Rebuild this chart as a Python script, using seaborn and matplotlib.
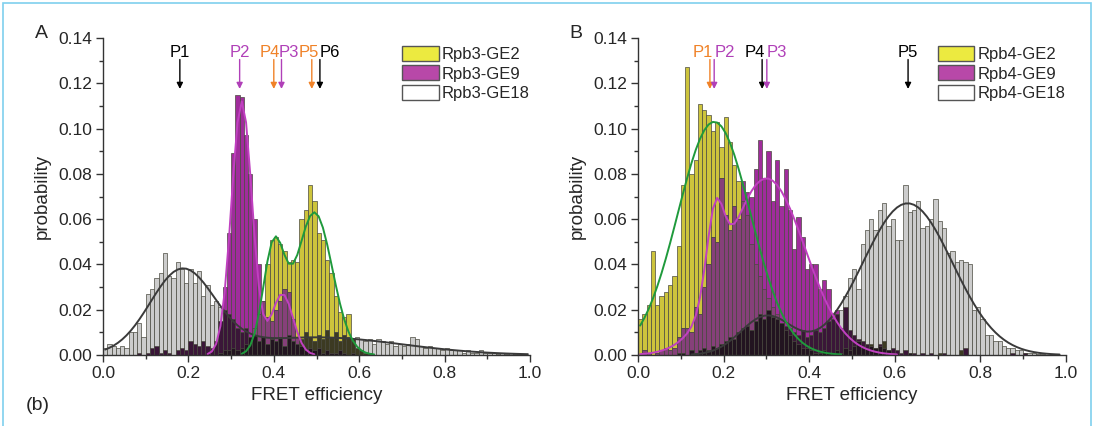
import numpy as np
import pandas as pd
import matplotlib
matplotlib.use("Agg")
import matplotlib.pyplot as plt
import seaborn as sns
from matplotlib.patches import Patch, Rectangle
from matplotlib.ticker import MultipleLocator, FormatStrFormatter

sns.set_theme(style="ticks")
plt.rcParams["font.family"] = ["Liberation Sans", "DejaVu Sans"]

# FRET histograms, 100 bins of width 0.01
a_ge2 = [
    0, 0, 0, 0, 0, 0, 0, 0, 0, 0,
    0, 0, 0, 0, 0, 0, 0, 0, 0, 0,
    0, 0, 0, 0, 0, 0, 0, 0.001, 0.002, 0.002,
    0.003, 0.002, 0.003, 0.005, 0.008, 0.012, 0.018, 0.024, 0.040, 0.051,
    0.052, 0.049, 0.046, 0.041, 0.042, 0.041, 0.060, 0.064, 0.075, 0.068,
    0.054, 0.051, 0.042, 0.036, 0.026, 0.019, 0.017, 0.018, 0.007, 0.003,
    0.002, 0.001, 0.001, 0, 0, 0, 0, 0, 0, 0,
    0, 0, 0, 0, 0, 0, 0, 0, 0, 0,
    0, 0, 0, 0, 0, 0, 0, 0, 0, 0,
    0, 0, 0, 0, 0, 0, 0, 0, 0, 0,
]
a_ge9 = [
    0, 0, 0, 0, 0, 0, 0, 0, 0.001, 0,
    0.001, 0.003, 0.004, 0.001, 0.002, 0.001, 0, 0.002, 0.003, 0.002,
    0.006, 0.005, 0.004, 0.006, 0.004, 0.003, 0.006, 0.015, 0.030, 0.054,
    0.089, 0.115, 0.114, 0.097, 0.080, 0.060, 0.040, 0.024, 0.017, 0.015,
    0.020, 0.024, 0.029, 0.028, 0.016, 0.008, 0.004, 0.002, 0.003, 0.002,
    0.003, 0.001, 0.002, 0.001, 0.001, 0.002, 0.001, 0, 0.001, 0,
    0, 0, 0, 0, 0, 0, 0, 0, 0, 0,
    0, 0, 0, 0, 0, 0, 0, 0, 0, 0,
    0, 0, 0, 0, 0, 0, 0, 0, 0, 0,
    0, 0, 0, 0, 0, 0, 0, 0, 0, 0,
]
a_ge18 = [
    0.003, 0.005, 0.004, 0.003, 0.004, 0.003, 0.010, 0.010, 0.014, 0.008,
    0.027, 0.029, 0.034, 0.036, 0.045, 0.035, 0.034, 0.041, 0.038, 0.032,
    0.038, 0.032, 0.037, 0.026, 0.031, 0.022, 0.024, 0.021, 0.020, 0.018,
    0.016, 0.012, 0.010, 0.012, 0.008, 0.009, 0.006, 0.008, 0.005, 0.007,
    0.006, 0.008, 0.004, 0.009, 0.006, 0.005, 0.007, 0.010, 0.008, 0.006,
    0.009, 0.007, 0.011, 0.008, 0.010, 0.006, 0.009, 0.008, 0.007, 0.008,
    0.007, 0.006, 0.007, 0.005, 0.007, 0.006, 0.005, 0.006, 0.004, 0.005,
    0.004, 0.005, 0.008, 0.007, 0.004, 0.003, 0.004, 0.003, 0.003, 0.002,
    0.003, 0.002, 0.002, 0.002, 0.001, 0.002, 0.001, 0.001, 0.002, 0.001,
    0.001, 0.001, 0.0005, 0.001, 0.0005, 0.001, 0.0005, 0.0003, 0.0003, 0.0002,
]
b_ge2 = [
    0.016, 0.018, 0.022, 0.046, 0.022, 0.026, 0.028, 0.031, 0.035, 0.048,
    0.075, 0.127, 0.080, 0.086, 0.111, 0.108, 0.106, 0.099, 0.103, 0.092,
    0.105, 0.094, 0.084, 0.077, 0.068, 0.062, 0.049, 0.040, 0.035, 0.029,
    0.025, 0.021, 0.018, 0.014, 0.011, 0.009, 0.006, 0.005, 0.003, 0.003,
    0.002, 0.001, 0.001, 0.002, 0.001, 0.001, 0.002, 0.001, 0.003, 0.002,
    0.004, 0.006, 0.004, 0.003, 0.005, 0.003, 0.004, 0.006, 0.002, 0.001,
    0, 0, 0, 0.001, 0, 0, 0, 0, 0, 0,
    0.001, 0, 0, 0, 0, 0.002, 0, 0, 0, 0,
    0, 0, 0, 0, 0, 0, 0, 0, 0, 0,
    0, 0, 0, 0, 0, 0, 0, 0, 0, 0,
]
b_ge9 = [
    0, 0.002, 0.001, 0, 0.001, 0.002, 0.003, 0.002, 0.003, 0.008,
    0.012, 0.012, 0.010, 0.021, 0.018, 0.030, 0.040, 0.052, 0.050, 0.078,
    0.062, 0.055, 0.066, 0.060, 0.077, 0.072, 0.070, 0.082, 0.095, 0.078,
    0.090, 0.068, 0.086, 0.066, 0.082, 0.064, 0.047, 0.061, 0.052, 0.038,
    0.040, 0.040, 0.029, 0.033, 0.029, 0.018, 0.020, 0.012, 0.021, 0.011,
    0.009, 0.007, 0.006, 0.005, 0.004, 0.003, 0.005, 0.003, 0.002, 0.003,
    0.002, 0.001, 0.002, 0.001, 0.001, 0, 0.001, 0, 0.001, 0,
    0, 0.001, 0, 0, 0, 0, 0.003, 0, 0, 0,
    0, 0, 0, 0, 0, 0, 0, 0.001, 0, 0,
    0.001, 0, 0, 0, 0, 0, 0, 0, 0, 0,
]
b_ge18 = [
    0, 0, 0, 0, 0, 0, 0, 0, 0, 0.001,
    0.001, 0, 0.002, 0.001, 0.002, 0.003, 0.002, 0.004, 0.003, 0.005,
    0.006, 0.008, 0.007, 0.010, 0.012, 0.013, 0.011, 0.015, 0.018, 0.016,
    0.020, 0.017, 0.016, 0.014, 0.013, 0.012, 0.010, 0.009, 0.011, 0.008,
    0.009, 0.011, 0.010, 0.012, 0.015, 0.016, 0.018, 0.020, 0.026, 0.034,
    0.038, 0.029, 0.049, 0.055, 0.060, 0.055, 0.064, 0.067, 0.057, 0.060,
    0.051, 0.051, 0.075, 0.063, 0.064, 0.068, 0.056, 0.057, 0.060, 0.069,
    0.059, 0.056, 0.045, 0.046, 0.041, 0.042, 0.041, 0.040, 0.020, 0.021,
    0.016, 0.009, 0.009, 0.006, 0.006, 0.004, 0.003, 0.003, 0.002, 0.002,
    0.001, 0.001, 0.001, 0.0005, 0.0005, 0, 0, 0, 0, 0,
]

# gaussian fit parameters (centre, width, amplitude) for each construct
a_fits = {
    "GE2": ([0.40, 0.495], [0.025, 0.042], [0.047, 0.063]),
    "GE9": ([0.325, 0.42], [0.024, 0.025], [0.112, 0.027]),
    "GE18": ([0.185, 0.50], [0.075, 0.20], [0.036, 0.0078]),
}
b_fits = {
    "GE2": ([0.178], [0.085], [0.103]),
    "GE9": ([0.18, 0.30], [0.02, 0.09], [0.036, 0.078]),
    "GE18": ([0.30, 0.63], [0.06, 0.105], [0.017, 0.067]),
}

# peak markers
a_peaks = ["P1", "P2", "P4", "P3", "P5", "P6"]
a_peak_pos = [0.18, 0.32, 0.40, 0.418, 0.489, 0.508]
a_peak_col = ["black", "#b040b8", "#f08228", "#b040b8", "#f08228", "black"]
a_label_dx = [0, 0, -0.009, 0.016, -0.006, 0.024]
b_peaks = ["P1", "P2", "P4", "P3", "P5"]
b_peak_pos = [0.168, 0.178, 0.29, 0.301, 0.631]
b_peak_col = ["#f08228", "#b040b8", "black", "#b040b8", "black"]
b_label_dx = [-0.016, 0.025, -0.017, 0.024, 0]

bin_w = 0.01
centers = np.arange(len(a_ge2)) * bin_w + bin_w / 2

bar_col = {"GE2": "#cdc43c", "GE9": "#a02c9c", "GE18": "#cccccc"}
leg_col = {"GE2": "#ecea40", "GE9": "#b848a8", "GE18": "white"}
pair_col = {("GE2", "GE9"): "#86407a", ("GE2", "GE18"): "#3c3a22",
            ("GE9", "GE18"): "#3a1638"}
triple_col = "#221420"
fit_col = {"GE2": "#1f9a3c", "GE9": "#c040c0", "GE18": "#3a3a3a"}
EDGE = "#4a4a40"


def bars(ax, x, h, color):
    h = np.asarray(h, dtype=float)
    m = h > 0
    ax.bar(x[m], h[m], width=bin_w, color=color, edgecolor=EDGE, linewidth=0.5)


def gauss_sum(x, params):
    mu, sd, amp = params
    y = np.zeros_like(x)
    for m, s, a in zip(mu, sd, amp):
        y += a * np.exp(-0.5 * ((x - m) / s) ** 2)
    return y


def panel(ax, hist, fits, prefix, peaks, pos, cols, dx):
    for k in ["GE2", "GE9", "GE18"]:
        bars(ax, centers, hist[k], bar_col[k])
    for (a, b), c in pair_col.items():
        bars(ax, centers, np.minimum(hist[a], hist[b]), c)
    bars(ax, centers, np.minimum.reduce([np.asarray(hist[k]) for k in hist]), triple_col)

    for k in ["GE18", "GE9", "GE2"]:
        y = gauss_sum(centers, fits[k])
        m = y > 2e-4
        df = pd.DataFrame({"E": centers[m], "p": y[m]})
        sns.lineplot(data=df, x="E", y="p", ax=ax, color=fit_col[k], lw=1.4,
                     estimator=None, sort=False)

    for name, x0, c, d in zip(peaks, pos, cols, dx):
        ax.annotate("", xy=(x0, 0.1175), xytext=(x0, 0.1305),
                    arrowprops=dict(arrowstyle="-|>", color=c, lw=1.0,
                                    mutation_scale=9, shrinkA=0, shrinkB=0))
        ax.text(x0 + d, 0.1338, name, color=c, fontsize=12, ha="center", va="center")

    handles = [Patch(facecolor=leg_col[k], edgecolor="#555555", lw=1.0,
                     label=f"{prefix}-{k}") for k in ["GE2", "GE9", "GE18"]]
    ax.legend(handles=handles, loc="upper left", bbox_to_anchor=(0.70, 0.975),
              frameon=False, fontsize=12, handlelength=2.2, handleheight=1.0,
              handletextpad=0.2, labelspacing=0.2, borderpad=0, borderaxespad=0)

    ax.set_xlim(0, 1)
    ax.set_ylim(0, 0.14)
    ax.xaxis.set_major_locator(MultipleLocator(0.2))
    ax.xaxis.set_minor_locator(MultipleLocator(0.1))
    ax.yaxis.set_major_locator(MultipleLocator(0.02))
    ax.yaxis.set_minor_locator(MultipleLocator(0.01))
    ax.xaxis.set_major_formatter(FormatStrFormatter("%.1f"))
    ax.yaxis.set_major_formatter(FormatStrFormatter("%.2f"))
    ax.tick_params(which="major", direction="out", length=5, width=1.0,
                   labelsize=12.5, color="#333333", pad=3)
    ax.tick_params(which="minor", direction="out", length=3, width=1.0, color="#333333")
    sns.despine(ax=ax)
    for s in ["left", "bottom"]:
        ax.spines[s].set_linewidth(1.0)
        ax.spines[s].set_color("#333333")
    ax.set_xlabel("FRET efficiency", fontsize=13.5, labelpad=4)
    ax.set_ylabel("probability", fontsize=13.5, labelpad=5)


W, H = 1094, 426
fig = plt.figure(figsize=(W / 100, H / 100), dpi=100)
ax_a = fig.add_axes([103 / W, 1 - 355 / H, 427 / W, 317 / H])
ax_b = fig.add_axes([638 / W, 1 - 355 / H, 428 / W, 317 / H])

panel(ax_a, {"GE2": a_ge2, "GE9": a_ge9, "GE18": a_ge18}, a_fits, "Rpb3",
      a_peaks, a_peak_pos, a_peak_col, a_label_dx)
panel(ax_b, {"GE2": b_ge2, "GE9": b_ge9, "GE18": b_ge18}, b_fits, "Rpb4",
      b_peaks, b_peak_pos, b_peak_col, b_label_dx)

fig.text(41 / W, 1 - 34 / H, "A", fontsize=14, ha="center", va="center")
fig.text(576 / W, 1 - 34 / H, "B", fontsize=14, ha="center", va="center")
fig.text(38 / W, 1 - 405 / H, "(b)", fontsize=14, ha="center", va="center")

fig.patches.append(Rectangle((3 / W, -0.1), 1088 / W, 1.1 - 3 / H, transform=fig.transFigure,
                             fill=False, edgecolor="#7fd0ee", lw=1.2))

fig.savefig("out.png", dpi=100)
